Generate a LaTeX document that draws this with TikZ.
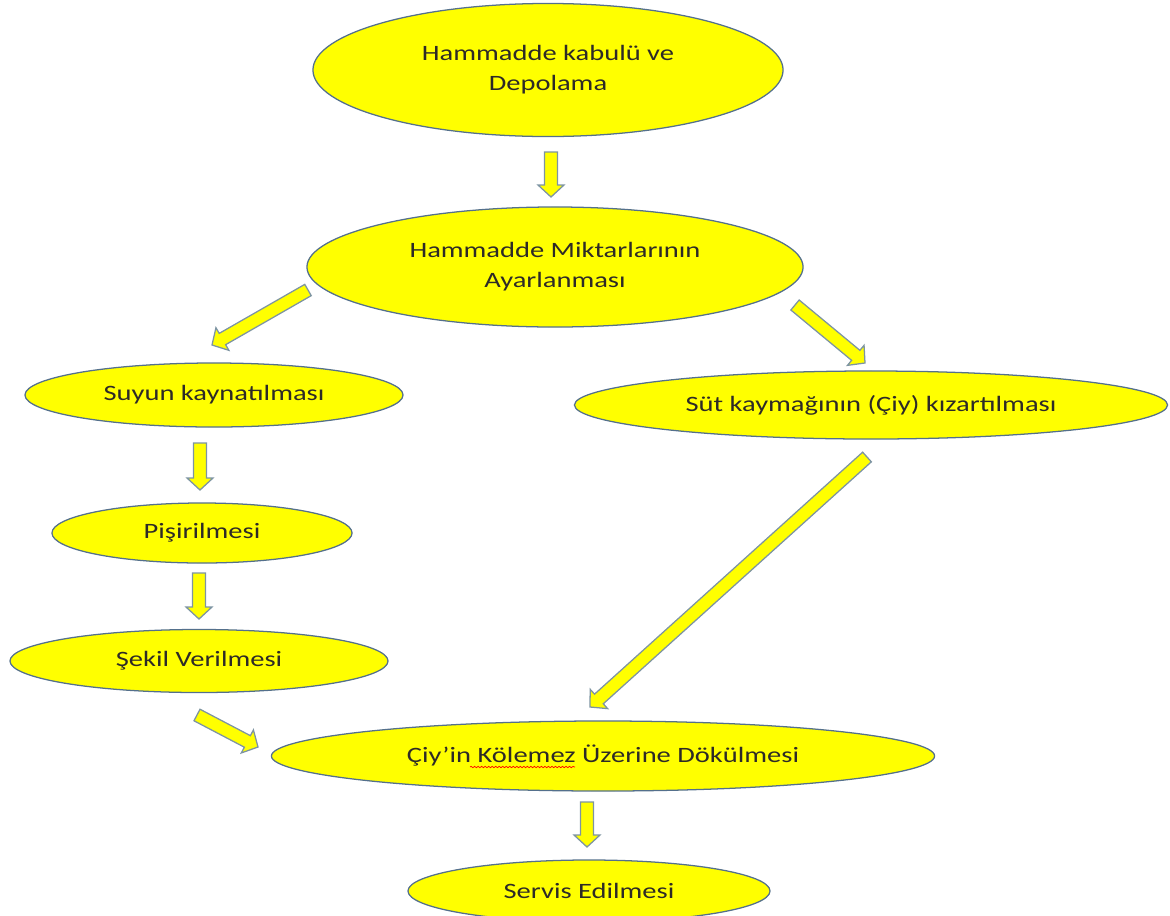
\documentclass[tikz,border=0pt]{standalone}
\usepackage{fontspec}
\setmainfont{Carlito}[FakeStretch=1.3]
\usepackage{tikz}
\usetikzlibrary{shapes.geometric,calc,decorations.pathmorphing}

\definecolor{stageyellow}{RGB}{255,255,0}
\definecolor{rimblue}{RGB}{84,112,140}
\definecolor{arrowrim}{RGB}{125,148,162}

% block arrow from #1 (tail) to #2 (tip)
\newcommand{\blockarrow}[2]{%
  \coordinate (hb) at ($(#2)!0.3cm!(#1)$);
  \draw[blockarr] ($(#1)!0.1625cm!90:(#2)$) -- ($(hb)!0.1625cm!90:(#2)$)
    -- ($(hb)!0.325cm!90:(#2)$) -- (#2) -- ($(hb)!0.325cm!-90:(#2)$)
    -- ($(hb)!0.1625cm!-90:(#2)$) -- ($(#1)!0.1625cm!-90:(#2)$) -- cycle;}

\begin{document}
\begin{tikzpicture}[x=0.025cm, y=-0.025cm,
  stage/.style={ellipse, draw=rimblue, line width=0.9pt, fill=stageyellow,
    inner sep=0pt, align=center, text=black!90!olive,
    font=\fontsize{15.6}{21.3}\selectfont},
  blockarr/.style={draw=arrowrim, line width=0.9pt, fill=stageyellow, line join=miter}]
\useasboundingbox (0,0) rectangle (1170,915);

\node[stage, minimum width=11.75cm, minimum height=3.325cm] (receive) at (548,70) {Hammadde kabulü ve\\Depolama};
\node[stage, minimum width=12.4cm, minimum height=3cm] (adjust) at (555,267) {Hammadde Miktarlarının\\Ayarlanması};
\node[stage, minimum width=9.45cm, minimum height=1.6cm] (boil) at (214,395) {Suyun kaynatılması};
\node[stage, minimum width=14.825cm, minimum height=1.7cm] (cream) at (871,405) {Süt kaymağının (Çiy) kızartılması};
\node[stage, minimum width=7.5cm, minimum height=1.5cm] (cook) at (202,533) {Pişirilmesi};
\node[stage, minimum width=9.45cm, minimum height=1.575cm] (form) at (199,661) {Şekil Verilmesi};
\node[stage, minimum width=16.575cm, minimum height=1.75cm] (pour) at (603,756) {Çiy’in Kölemez Üzerine Dökülmesi};
\node[stage, minimum width=9.05cm, minimum height=1.55cm] (serve) at (589,891) {Servis Edilmesi};

% spelling mark under "Kölemez"
\draw[red, line width=0.5pt, decorate, decoration={snake, amplitude=0.5pt, segment length=2.5pt}]
  (470,767) coordinate (wavy1) -- (575,767) coordinate (wavy2);

\foreach \xa/\ya/\xb/\yb in {551/152/551/197, 308/290/212/345, 795/305/865/363,
  200/443/200/490, 867/457/590/707, 199/573/199/619, 197/715/258/747, 587/802/587/847} {
  \coordinate (tail) at (\xa,\ya);
  \coordinate (tip) at (\xb,\yb);
  \blockarrow{tail}{tip}
}
\end{tikzpicture}
\end{document}
